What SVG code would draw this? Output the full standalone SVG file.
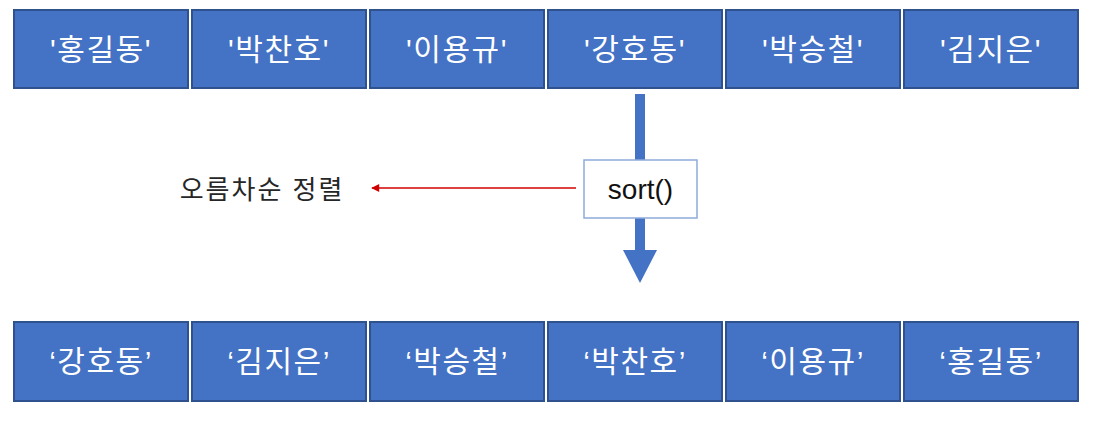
<svg xmlns="http://www.w3.org/2000/svg" width="1102" height="422" viewBox="0 0 1102 422">
<style>
.box{fill:#4472C4;stroke:#2F528F;stroke-width:2}
.bt{font-family:"Liberation Sans","Noto Sans CJK KR",sans-serif;font-size:30px;fill:#fff;text-anchor:middle;letter-spacing:1.5px}
.lbl{font-family:"Liberation Sans","Noto Sans CJK KR",sans-serif;font-size:26px;fill:#262626;text-anchor:middle;letter-spacing:2px}
</style>
<defs>
<marker id="ra" viewBox="0 0 10 10" refX="9" refY="5" markerWidth="10" markerHeight="8" orient="auto" markerUnits="userSpaceOnUse">
<path d="M0,0 L10,5 L0,10 z" fill="#D00000"/>
</marker>
</defs>
<rect width="1102" height="422" fill="#fff"/>
<g id="top">
<g id="t1"><rect class="box" x="14" y="10" width="174" height="78"/><text class="bt" x="101" y="60">'홍길동'</text></g>
<g id="t2"><rect class="box" x="192" y="10" width="174" height="78"/><text class="bt" x="279" y="60">'박찬호'</text></g>
<g id="t3"><rect class="box" x="370" y="10" width="174" height="78"/><text class="bt" x="457" y="60">'이용규'</text></g>
<g id="t4"><rect class="box" x="548" y="10" width="174" height="78"/><text class="bt" x="635" y="60">'강호동'</text></g>
<g id="t5"><rect class="box" x="726" y="10" width="174" height="78"/><text class="bt" x="813" y="60">'박승철'</text></g>
<g id="t6"><rect class="box" x="904" y="10" width="174" height="78"/><text class="bt" x="991" y="60">'김지은'</text></g>
</g>
<g id="connectors">
<rect x="635" y="94" width="10" height="160" fill="#4472C4"/>
<polygon points="623,250 657,250 640,283" fill="#4472C4"/>
<line x1="576" y1="188" x2="372" y2="188" stroke="#D00000" stroke-width="1.5" marker-end="url(#ra)"/>
</g>
<g id="sort"><rect x="584" y="160" width="113" height="58" fill="#fff" stroke="#8FAADC" stroke-width="1.5"/><text x="640.5" y="199" font-family="Liberation Sans, sans-serif" font-size="28" fill="#111" text-anchor="middle">sort()</text></g>
<g id="label"><text class="lbl" x="262" y="199">오름차순 정렬</text></g>
<g id="bottom">
<g id="b1"><rect class="box" x="14" y="322" width="174" height="79"/><text class="bt" x="101" y="372">‘강호동’</text></g>
<g id="b2"><rect class="box" x="192" y="322" width="174" height="79"/><text class="bt" x="279" y="372">‘김지은’</text></g>
<g id="b3"><rect class="box" x="370" y="322" width="174" height="79"/><text class="bt" x="457" y="372">‘박승철’</text></g>
<g id="b4"><rect class="box" x="548" y="322" width="174" height="79"/><text class="bt" x="635" y="372">‘박찬호’</text></g>
<g id="b5"><rect class="box" x="726" y="322" width="174" height="79"/><text class="bt" x="813" y="372">‘이용규’</text></g>
<g id="b6"><rect class="box" x="904" y="322" width="174" height="79"/><text class="bt" x="991" y="372">‘홍길동’</text></g>
</g>
</svg>
